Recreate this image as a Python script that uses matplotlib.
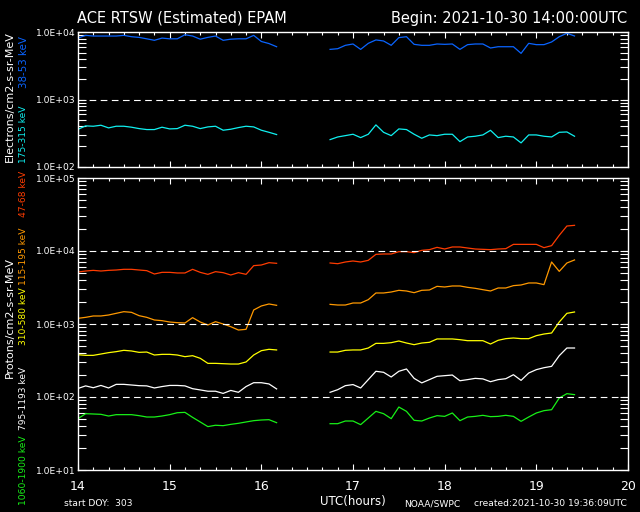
import numpy as np
import matplotlib
matplotlib.use('Agg')
import matplotlib.pyplot as plt
from matplotlib.ticker import LogLocator, MultipleLocator, NullFormatter, FuncFormatter

# 5-minute samples, two stretches with a data gap between them
t_seg1 = 14.0 + np.arange(27) * 5 / 60
t_seg2 = 16.75 + np.arange(33) * 5 / 60

# electrons
e38_seg1 = [8200, 9000, 8800, 8800, 8800, 8800, 9000, 8600, 8400, 8000, 7600, 8200, 8000, 8000,
            9200, 8800, 7900, 8400, 8800, 7600, 7900, 8000, 8000, 9000, 7300, 6800, 6100]
e38_seg2 = [5570, 5700, 6400, 6700, 5570, 6850, 7700, 7430, 6400, 8330, 8600, 6620, 6400, 6400,
            6700, 6620, 6700, 5570, 6550, 6700, 6700, 5840, 6100, 6100, 6100, 4860, 6850, 6550,
            6550, 7180, 8600, 9660, 8820]
e175_seg1 = [360, 405, 400, 414, 378, 400, 400, 387, 369, 357, 357, 387, 365, 369,
             414, 400, 369, 391, 400, 349, 361, 382, 400, 391, 349, 325, 301]
e175_seg2 = [253, 277, 290, 304, 271, 304, 419, 325, 290, 365, 357, 304, 265, 297,
             290, 304, 304, 236, 277, 284, 297, 348, 271, 284, 277, 226, 297, 297,
             284, 277, 325, 329, 284]

# protons
p47_seg1 = [5150, 5320, 5430, 5320, 5430, 5490, 5610, 5610, 5490, 5380, 4840, 5100, 5100, 5000,
            5000, 5610, 5100, 4790, 5210, 5050, 4690, 5050, 4790, 6300, 6430, 6920, 6780]
p47_seg2 = [6850, 6700, 7070, 7300, 7070, 7450, 9000, 9100, 9100, 9790, 9790, 9490, 10210, 10430,
            11220, 10650, 11350, 11350, 10990, 10650, 10540, 10430, 10650, 10760, 12330, 12330,
            12330, 12330, 11110, 11840, 16400, 21990, 22470]
p115_seg1 = [1196, 1234, 1288, 1288, 1328, 1400, 1475, 1445, 1300, 1234, 1135, 1111, 1065, 1043,
             1032, 1222, 1065, 969, 1076, 1000, 919, 827, 845, 1556, 1766, 1880, 1803]
p115_seg2 = [1858, 1820, 1820, 1940, 1940, 2155, 2660, 2660, 2743, 2893, 2833, 2686, 2893, 2923,
             3280, 3213, 3318, 3318, 3178, 3082, 2953, 2833, 3113, 3113, 3353, 3424, 3648, 3648,
             3461, 7070, 5260, 6850, 7540]
p310_seg1 = [380, 372, 372, 388, 405, 418, 436, 427, 409, 413, 376, 384, 384, 376,
             357, 368, 339, 289, 289, 286, 283, 283, 302, 376, 431, 450, 441]
p310_seg2 = [413, 413, 436, 441, 441, 469, 543, 543, 555, 585, 549, 521, 549, 561,
             624, 624, 624, 610, 591, 591, 591, 532, 598, 630, 643, 630, 630, 692,
             729, 753, 1065, 1400, 1460]
p795_seg1 = [131, 142, 134, 144, 133, 149, 149, 146, 143, 142, 133, 139, 144, 144,
             142, 130, 125, 120, 120, 112, 123, 116, 139, 157, 157, 151, 129]
p795_seg2 = [116, 126, 143, 148, 133, 173, 225, 218, 188, 225, 242, 180, 156, 173,
             192, 196, 200, 167, 173, 180, 177, 162, 173, 178, 202, 169, 213, 237,
             252, 263, 368, 469, 469]
p1060_seg1 = [50.5, 59.1, 58.5, 57.9, 54.9, 57.3, 57.3, 57.3, 55.5, 53.2, 53.2, 54.9, 57.3, 60.9,
              61.6, 52.6, 45.5, 39.3, 41.0, 40.5, 42.2, 43.6, 45.5, 47.4, 48.4, 48.9, 44.5]
p1060_seg2 = [43.1, 43.1, 46.9, 46.9, 41.8, 51.5, 63.6, 59.1, 50.5, 72.9, 63.6, 47.9, 46.9, 51.5,
              55.5, 54.3, 60.4, 47.4, 53.2, 54.3, 56.1, 53.8, 54.3, 56.1, 54.3, 46.4, 53.2, 60.4,
              65.0, 67.0, 96.8, 111.1, 107.7]

BLUE = '#0a64ff'
CYAN = '#10f0f0'
RED = '#ff3c00'
ORANGE = '#ff9900'
YELLOW = '#ffff00'
WHITE = '#ffffff'
GREEN = '#18f018'

W, H = 640, 512
plt.rcParams['font.family'] = ['DejaVu Sans']
fig = plt.figure(figsize=(W / 100, H / 100), dpi=100, facecolor='black')


def px_box(left, top, right, bottom):
    return [left / W, 1 - bottom / H, (right - left) / W, (bottom - top) / H]


def fx(x):
    return x / W


def fy(y):
    return 1 - y / H


def style_axes(ax, ylo, yhi, dashes):
    ax.set_facecolor('black')
    ax.set_yscale('log')
    ax.set_xlim(14, 20)
    ax.set_ylim(ylo, yhi)
    for s in ax.spines.values():
        s.set_color('white')
        s.set_linewidth(1.0)
    ax.xaxis.set_major_locator(MultipleLocator(1))
    ax.xaxis.set_minor_locator(MultipleLocator(1 / 6))
    ax.yaxis.set_major_locator(LogLocator(base=10, numticks=10))
    ax.yaxis.set_minor_locator(LogLocator(base=10, subs=np.arange(2, 10), numticks=10))
    ax.yaxis.set_minor_formatter(NullFormatter())
    ax.yaxis.set_major_formatter(FuncFormatter(lambda v, p: '1.0E+%02d' % round(np.log10(v))))
    ax.tick_params(which='both', direction='in', colors='white', top=True, right=True)
    ax.tick_params(axis='x', which='major', length=4.3, width=0.8, pad=7, labelsize=9)
    ax.tick_params(axis='x', which='minor', length=2.2, width=0.8)
    ax.tick_params(axis='y', which='both', length=5.8, width=0.8, pad=2, labelsize=6.6)
    for d in dashes:
        ax.axhline(d, color='white', lw=0.8, ls=(0, (6, 4)), zorder=3)


# electrons panel
ax_e = fig.add_axes(px_box(78, 32.3, 628, 166.7))
style_axes(ax_e, 1e2, 1e4, [1e3])
ax_e.tick_params(axis='x', labelbottom=False)
for vals, c in [((e38_seg1, e38_seg2), BLUE), ((e175_seg1, e175_seg2), CYAN)]:
    ax_e.plot(t_seg1, vals[0], color=c, lw=0.9)
    ax_e.plot(t_seg2, vals[1], color=c, lw=0.9)

# protons panel
ax_p = fig.add_axes(px_box(78, 178, 628, 470))
style_axes(ax_p, 1e1, 1e5, [1e4, 1e3, 1e2])
ax_p.xaxis.set_major_formatter(FuncFormatter(lambda v, p: '%d' % round(v)))
for vals, c in [((p47_seg1, p47_seg2), RED), ((p115_seg1, p115_seg2), ORANGE),
                ((p310_seg1, p310_seg2), YELLOW), ((p795_seg1, p795_seg2), WHITE),
                ((p1060_seg1, p1060_seg2), GREEN)]:
    ax_p.plot(t_seg1, vals[0], color=c, lw=0.9)
    ax_p.plot(t_seg2, vals[1], color=c, lw=0.9)

# y labels, built from coloured pieces like the original
small = 6.6
unit_size = 8
fig.text(fx(10), fy(97), 'Electrons/cm2-s-sr-MeV', color=WHITE, rotation=90,
         ha='center', va='center', fontsize=unit_size)
fig.text(fx(24), fy(163), '175-315 keV', color=CYAN, rotation=90, ha='center', va='bottom', fontsize=small)
fig.text(fx(24), fy(88), '38-53 keV', color=BLUE, rotation=90, ha='center', va='bottom', fontsize=7.4)

fig.text(fx(10), fy(317), 'Protons/cm2-s-sr-MeV', color=WHITE, rotation=90,
         ha='center', va='center', fontsize=unit_size)
for label, c, start in [('1060-1900 keV', GREEN, 505), ('795-1193 keV', WHITE, 430),
                        ('310-580 keV', YELLOW, 345), ('115-195 keV', ORANGE, 285),
                        ('47-68 keV', RED, 217)]:
    fig.text(fx(24), fy(start), label, color=c, rotation=90, ha='center', va='bottom', fontsize=small)

# header and footer
fig.text(fx(77), fy(18), 'ACE RTSW (Estimated) EPAM', color='white', fontsize=10.5, ha='left', va='center')
fig.text(fx(627), fy(18), 'Begin: 2021-10-30 14:00:00UTC', color='white', fontsize=10.5,
         ha='right', va='center')
fig.text(fx(353), fy(501), 'UTC(hours)', color='white', fontsize=8.5, ha='center', va='center')
fig.text(fx(64), fy(504), 'start DOY:  303', color='white', fontsize=small, ha='left', va='center')
fig.text(fx(404), fy(504), 'NOAA/SWPC', color='white', fontsize=small, ha='left', va='center')
fig.text(fx(627), fy(504), 'created:2021-10-30 19:36:09UTC', color='white', fontsize=small,
         ha='right', va='center')

fig.savefig('out.png', dpi=100, facecolor='black')
